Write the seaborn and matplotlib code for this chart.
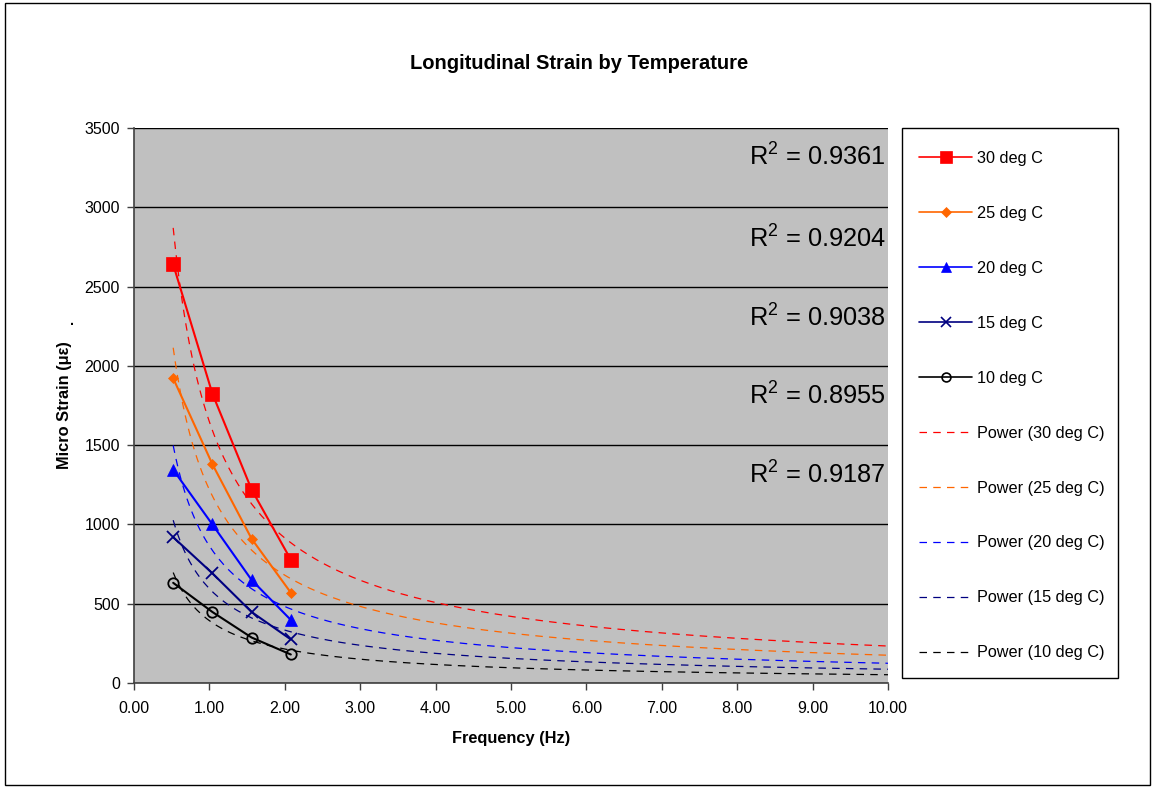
import numpy as np
import pandas as pd
import matplotlib
matplotlib.use("Agg")
import matplotlib.pyplot as plt
import seaborn as sns
from matplotlib.lines import Line2D
from matplotlib.patches import Rectangle

# Data
frequency = [0.52, 1.04, 1.56, 2.08]
strain_30 = [2640, 1825, 1220, 778]
strain_25 = [1922, 1380, 910, 570]
strain_20 = [1345, 1000, 650, 398]
strain_15 = [920, 692, 448, 275]
strain_10 = [632, 448, 287, 180]
labels = ["30 deg C", "25 deg C", "20 deg C", "15 deg C", "10 deg C"]
r_squared = ["0.9361", "0.9204", "0.9038", "0.8955", "0.9187"]
r2_ypos = [3320, 2800, 2305, 1810, 1310]

colors = ["#FF0000", "#FF6600", "#0000FF", "#000080", "#000000"]
markers = ["s", "D", "^", "x", "o"]
msizes = [10, 5.5, 9, 8, 7.5]
DASH = (0, (6, 5))

df = pd.DataFrame({
    "freq": frequency * 5,
    "strain": strain_30 + strain_25 + strain_20 + strain_15 + strain_10,
    "series": [l for l in labels for _ in frequency],
})

sns.set_style("white")
plt.rcParams["font.family"] = ["Liberation Sans", "DejaVu Sans"]
plt.rcParams["mathtext.fontset"] = "custom"
plt.rcParams["mathtext.rm"] = "Liberation Sans"
plt.rcParams["text.color"] = "black"
plt.rcParams["axes.labelcolor"] = "black"
plt.rcParams["xtick.color"] = "black"
plt.rcParams["ytick.color"] = "black"

fig = plt.figure(figsize=(11.55, 7.88), dpi=100)
ax = fig.add_axes([0.116, 0.1332, 0.6528, 0.7043])
ax.set_facecolor("#C0C0C0")

handles = []
# fitted power trendlines (Excel-style least squares on log-log)
xfit = np.linspace(frequency[0], 10, 300)
fit_handles = []
for lab, col in zip(labels, colors):
    sub = df[df["series"] == lab]
    b, lna = np.polyfit(np.log(sub["freq"]), np.log(sub["strain"]), 1)
    fit = pd.DataFrame({"x": xfit, "y": np.exp(lna) * xfit ** b})
    sns.lineplot(data=fit, x="x", y="y", ax=ax, color=col, lw=0.9,
                 linestyle=DASH, legend=False)
    fit_handles.append(Line2D([], [], color=col, lw=0.9, linestyle=DASH,
                              label=f"Power ({lab})"))

for lab, col, mk, ms in zip(labels, colors, markers, msizes):
    sub = df[df["series"] == lab]
    open_mk = mk == "o"
    sns.lineplot(data=sub, x="freq", y="strain", ax=ax, color=col, lw=1.5,
                 marker=mk, markersize=ms, markeredgewidth=1.3 if mk in "xo" else 0.5,
                 markerfacecolor="none" if open_mk else col,
                 markeredgecolor=col, legend=False)
    handles.append(Line2D([], [], color=col, lw=1.2, marker=mk,
                          markersize=ms * 0.85, markeredgewidth=1.2 if mk in "xo" else 0.5,
                          markerfacecolor="none" if open_mk else col,
                          markeredgecolor=col, label=lab))

for txt, yp in zip(r_squared, r2_ypos):
    ax.text(9.97, yp, r"R$^{2}$ = " + txt, ha="right", va="center", fontsize=18.3)

ax.set_xlim(0, 10)
ax.set_ylim(0, 3500)
ax.set_xticks(np.arange(0, 10.01, 1))
ax.set_xticklabels([f"{v:.2f}" for v in np.arange(0, 10.01, 1)])
ax.set_yticks(np.arange(0, 3501, 500))
ax.yaxis.grid(True, color="black", lw=1)
ax.xaxis.grid(False)
ax.set_axisbelow(True)
ax.tick_params(axis="both", labelsize=11.5, direction="out", length=5,
               width=1, color="#404040", left=True, bottom=True)
ax.tick_params(axis="x", pad=8)
ax.tick_params(axis="y", pad=5)
for s in ["top", "right"]:
    ax.spines[s].set_visible(False)
for s in ["left", "bottom"]:
    ax.spines[s].set_color("#404040")
    ax.spines[s].set_linewidth(1.2)

ax.set_xlabel("Frequency (Hz)", fontsize=11.8, fontweight="bold", labelpad=11)
ax.set_ylabel("Micro Strain (με)", fontsize=11.8, fontweight="bold", labelpad=9)
fig.text(0.0625, 0.588, ".", fontsize=10, fontweight="bold", ha="center")

fig.text(0.5017, 0.920, "Longitudinal Strain by Temperature", ha="center",
         va="center", fontsize=14.5, fontweight="bold")

# legend box
fig.patches.append(Rectangle((0.781, 0.1396), 0.187, 0.698, transform=fig.transFigure,
                             fill=False, edgecolor="black", lw=1))
fig.legend(handles=handles + fit_handles, loc="upper left",
           bbox_to_anchor=(0.7885, 0.8185), frameon=False, fontsize=11.7,
           labelspacing=2.455, handlelength=3.3, handletextpad=0.25, borderpad=0)

# outer chart border
fig.patches.append(Rectangle((0.004, 0.004), 0.992, 0.992, transform=fig.transFigure,
                             fill=False, edgecolor="black", lw=1))

fig.savefig("out.png", dpi=100)
